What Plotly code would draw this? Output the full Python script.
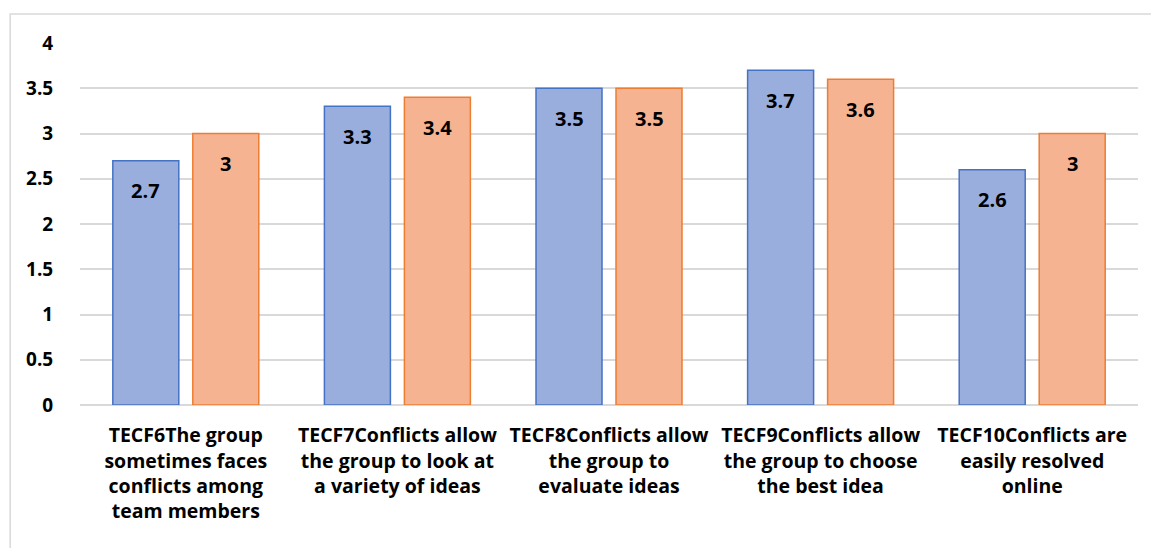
import plotly.graph_objects as go

categories = [
    "TECF6The group<br>sometimes faces<br>conflicts among<br>team members",
    "TECF7Conflicts allow<br>the group to look at<br>a variety of ideas",
    "TECF8Conflicts allow<br>the group to<br>evaluate ideas",
    "TECF9Conflicts allow<br>the group to choose<br>the best idea",
    "TECF10Conflicts are<br>easily resolved<br>online",
]
series_a = [2.7, 3.3, 3.5, 3.7, 2.6]
series_b = [3, 3.4, 3.5, 3.6, 3]
y_ticks = [0, 0.5, 1, 1.5, 2, 2.5, 3, 3.5, 4]

FONT = "Open Sans"

fig = go.Figure()
fig.add_trace(go.Bar(
    x=categories, y=series_a,
    marker=dict(color="#9aaedd", line=dict(color="#4472c4", width=1.5)),
    showlegend=False, hoverinfo="y",
))
fig.add_trace(go.Bar(
    x=categories, y=series_b,
    marker=dict(color="#f5b391", line=dict(color="#ed7d31", width=1.5)),
    showlegend=False, hoverinfo="y",
))

annotations = []
for series, shift in ((series_a, -40), (series_b, 40)):
    for cat, val in zip(categories, series):
        annotations.append(dict(
            x=cat, y=val, xref="x", yref="y", text=f"{val:g}", showarrow=False,
            xshift=shift, yshift=-30, yanchor="middle",
            font=dict(family=FONT, size=20, color="black", weight="bold"),
        ))

fig.update_layout(
    width=1151, height=540,
    margin=dict(l=72, r=21, t=35, b=143),
    paper_bgcolor="white", plot_bgcolor="white",
    barmode="group", bargap=0.244, bargroupgap=0.175,
    font=dict(family=FONT, size=18, color="black"),
    annotations=annotations,
    shapes=[dict(type="rect", xref="paper", yref="paper",
                 x0=-0.066, x1=1.05, y0=-0.5, y1=1.08,
                 line=dict(color="#d9d9d9", width=1.5), fillcolor="rgba(0,0,0,0)",
                 layer="below")],
)
fig.update_yaxes(range=[0, 4], tickvals=y_ticks, ticktext=[f"{v:g}" for v in y_ticks],
                 showgrid=True, gridcolor="#d9d9d9", gridwidth=1.5,
                 zeroline=True, zerolinecolor="#d9d9d9", zerolinewidth=1.5,
                 tickfont=dict(family=FONT, size=19, color="black", weight="bold"),
                 ticks="outside", ticklen=22, tickcolor="rgba(0,0,0,0)", showline=False)
fig.update_xaxes(tickfont=dict(family=FONT, size=19.5, color="black", weight="bold"),
                 tickangle=0, showline=False, ticks="outside", ticklen=13,
                 tickcolor="rgba(0,0,0,0)")

fig.write_html("out.html")
